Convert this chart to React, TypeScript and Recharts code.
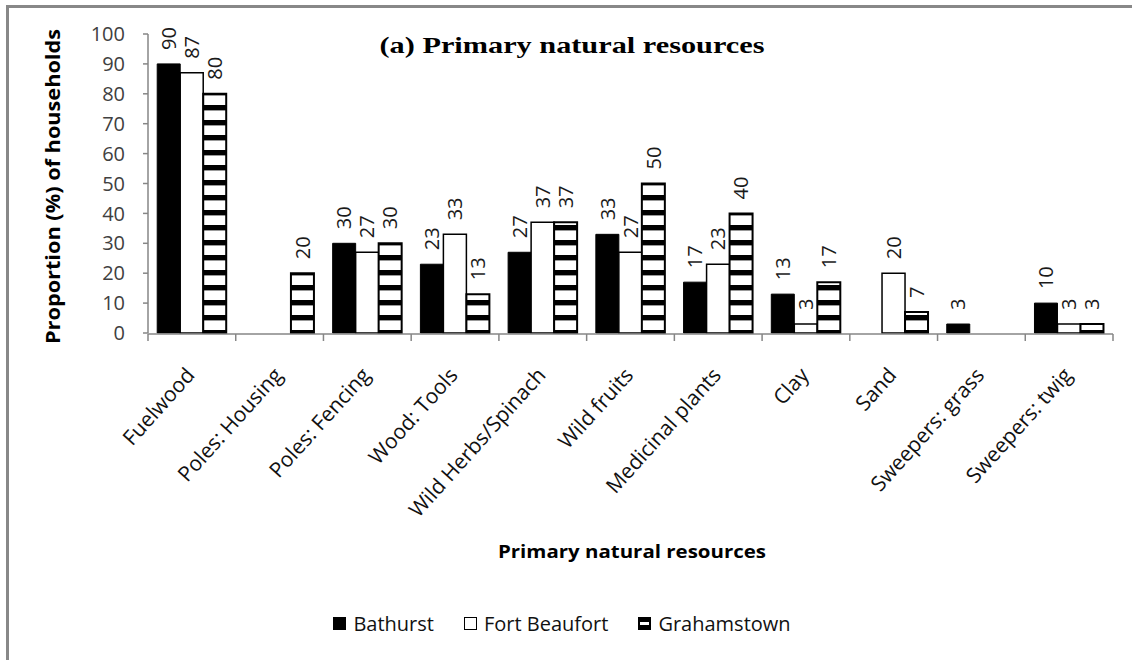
import React from 'react';
import { BarChart, Bar, XAxis, YAxis, Legend, LabelList } from 'recharts';

const categories = [
  'Fuelwood',
  'Poles: Housing',
  'Poles: Fencing',
  'Wood: Tools',
  'Wild Herbs/Spinach',
  'Wild fruits',
  'Medicinal plants',
  'Clay',
  'Sand',
  'Sweepers: grass',
  'Sweepers: twig',
];
const bathurst = [90, null, 30, 23, 27, 33, 17, 13, null, 3, 10];
const fortBeaufort = [87, null, 27, 33, 37, 27, 23, 3, 20, null, 3];
const grahamstown = [80, 20, 30, 13, 37, 50, 40, 17, 7, null, 3];
const yTicks = [0, 10, 20, 30, 40, 50, 60, 70, 80, 90, 100];
const boundaryTicks = [0, 1, 2, 3, 4, 5, 6, 7, 8, 9, 10, 11];
const seriesNames = ['Bathurst', 'Fort Beaufort', 'Grahamstown'];
const titleText = '(a) Primary natural resources';
const xTitle = 'Primary natural resources';
const yTitle = 'Proportion (%) of households';

const data = categories.map((name, i) => ({
  name,
  idx: i + 0.5,
  bathurst: bathurst[i],
  fortBeaufort: fortBeaufort[i],
  grahamstown: grahamstown[i],
}));

const FONT = "'Open Sans', 'DejaVu Sans', sans-serif";
const AXIS = '#868686';

const DataLabel = (props: any) => {
  const { x, y, width, value } = props;
  if (value == null) return null;
  const cx = Number(x) + Number(width) / 2;
  return (
    <text
      transform={`translate(${cx},${Number(y) - 14}) rotate(-90)`}
      textAnchor="start"
      dy="0.36em"
      fontSize={20}
      fontFamily={FONT}
      fill="#1a1a1a"
    >
      {value}
    </text>
  );
};

const XTick = (props: any) => {
  const { x, payload } = props;
  return (
    <text
      transform={`translate(${Number(x) + 4},376) rotate(-48)`}
      textAnchor="end"
      fontSize={21}
      fontFamily={FONT}
      fill="#111"
    >
      {payload.value}
    </text>
  );
};

const EmptyTick = () => <g />;

const Swatch = ({ kind }: { kind: string }) => {
  if (kind === 'bathurst')
    return (
      <svg width={13} height={13}>
        <rect x={0.5} y={0.5} width={12} height={12} fill="#000" stroke="#000" />
      </svg>
    );
  if (kind === 'fortBeaufort')
    return (
      <svg width={13} height={13}>
        <rect x={0.5} y={0.5} width={12} height={12} fill="#fff" stroke="#000" />
      </svg>
    );
  return (
    <svg width={13} height={13}>
      <rect x={0} y={0} width={13} height={13} fill="#000" />
      <rect x={2} y={5} width={9} height={3} fill="#fff" />
    </svg>
  );
};

const LegendContent = (props: any) => {
  const { payload } = props;
  return (
    <div
      style={{
        display: 'flex',
        justifyContent: 'center',
        alignItems: 'center',
        fontFamily: FONT,
        fontSize: 20,
        color: '#111',
        marginLeft: -8,
      }}
    >
      {(payload || []).map((p: any) => (
        <div key={p.dataKey} style={{ display: 'flex', alignItems: 'center', margin: '0 15px' }}>
          <Swatch kind={p.dataKey} />
          <span style={{ marginLeft: 7 }}>{p.value}</span>
        </div>
      ))}
    </div>
  );
};

const YLabel = (props: any) => {
  const vb = props.viewBox || { x: 0, y: 34, width: 148, height: 299 };
  const cy = vb.y + vb.height / 2 + 3;
  return (
    <text
      transform={`translate(60,${cy}) rotate(-90)`}
      textAnchor="middle"
      fontSize={19}
      fontWeight="bold"
      fontFamily={FONT}
      fill="#000"
      textLength={315}
      lengthAdjust="spacingAndGlyphs"
    >
      {yTitle}
    </text>
  );
};

export default function App() {
  return (
    <div style={{ position: 'absolute', left: 0, top: 0, width: 1132, height: 660, background: '#fff' }}>
      <div
        style={{
          position: 'absolute',
          left: 6,
          top: 5,
          right: 0,
          bottom: 0,
          borderLeft: '3px solid #888',
          borderTop: '3px solid #888',
        }}
      />
      <div style={{ position: 'absolute', left: 0, top: 0 }}>
        <BarChart
          width={1132}
          height={660}
          data={data}
          margin={{ top: 34, right: 19, left: 0, bottom: 325 }}
          barCategoryGap="10.5%"
          barGap={0}
        >
          <defs>
            <pattern id="hstripes" patternUnits="userSpaceOnUse" width={10} height={15}>
              <rect x={0} y={0} width={10} height={15} fill="#fff" />
              <rect x={0} y={0} width={10} height={5} fill="#000" />
              <rect x={0} y={5} width={10} height={1} fill="#999" />
            </pattern>
          </defs>
          <text
            x={572}
            y={53}
            textAnchor="middle"
            fontFamily="'Liberation Serif', 'Times New Roman', serif"
            fontWeight="bold"
            fontSize={24}
            fill="#000"
            textLength={385}
            lengthAdjust="spacingAndGlyphs"
          >
            {titleText}
          </text>
          <text
            x={632}
            y={558}
            textAnchor="middle"
            fontFamily={FONT}
            fontWeight="bold"
            fontSize={18}
            fill="#000"
            textLength={268}
            lengthAdjust="spacingAndGlyphs"
          >
            {xTitle}
          </text>
          <XAxis
            xAxisId="grid"
            type="number"
            dataKey="idx"
            domain={[0, 11]}
            ticks={boundaryTicks}
            interval={0}
            tick={<EmptyTick />}
            tickSize={7}
            height={1}
            axisLine={{ stroke: AXIS, strokeWidth: 1.5 }}
            tickLine={{ stroke: AXIS, strokeWidth: 1.5 }}
            allowDataOverflow
          />
          <XAxis
            xAxisId="cat"
            dataKey="name"
            type="category"
            interval={0}
            height={1}
            axisLine={false}
            tickLine={false}
            tickSize={0}
            tickMargin={0}
            tick={<XTick />}
          />
          <YAxis
            domain={[0, 100]}
            ticks={yTicks}
            width={148}
            interval={0}
            tickSize={5}
            tickMargin={18}
            axisLine={{ stroke: AXIS, strokeWidth: 1.5 }}
            tickLine={{ stroke: AXIS, strokeWidth: 1.5 }}
            tick={{ fontSize: 20, fontFamily: FONT, fill: '#404040' }}
            label={{ content: <YLabel /> }}
          />
          <Legend
            verticalAlign="middle"
            align="center"
            layout="horizontal"
            content={<LegendContent />}
            wrapperStyle={{ position: 'absolute', left: 0, top: 610, width: 1132 }}
          />
          <Bar
            xAxisId="cat"
            dataKey="bathurst"
            name={seriesNames[0]}
            fill="#000"
            stroke="#000"
            strokeWidth={1}
            isAnimationActive={false}
          >
            <LabelList dataKey="bathurst" content={<DataLabel />} />
          </Bar>
          <Bar
            xAxisId="cat"
            dataKey="fortBeaufort"
            name={seriesNames[1]}
            fill="#fff"
            stroke="#000"
            strokeWidth={1.5}
            isAnimationActive={false}
          >
            <LabelList dataKey="fortBeaufort" content={<DataLabel />} />
          </Bar>
          <Bar
            xAxisId="cat"
            dataKey="grahamstown"
            name={seriesNames[2]}
            fill="url(#hstripes)"
            stroke="#000"
            strokeWidth={2}
            isAnimationActive={false}
          >
            <LabelList dataKey="grahamstown" content={<DataLabel />} />
          </Bar>
        </BarChart>
      </div>
    </div>
  );
}
